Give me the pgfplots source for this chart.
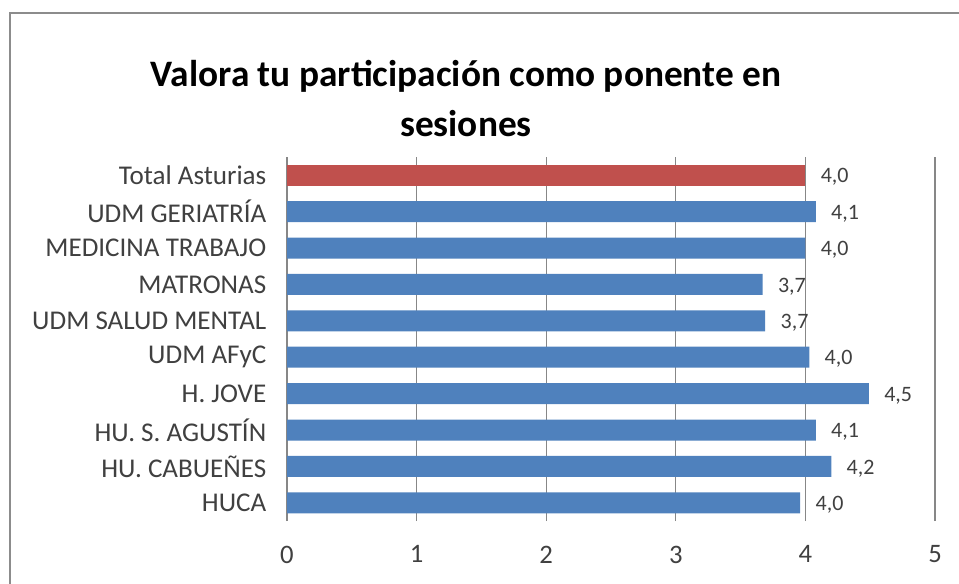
\documentclass[border=0pt]{standalone}
\usepackage{pgfplots}
\pgfplotsset{compat=1.18}
\usepackage{fontspec}
\setmainfont{Carlito}
\definecolor{barblue}{HTML}{4F81BD}
\definecolor{barred}{HTML}{C0504D}
\definecolor{gridgray}{HTML}{878787}
\definecolor{labgray}{HTML}{404040}
\definecolor{framegray}{HTML}{8C8C8C}
\begin{document}
\begin{tikzpicture}
\useasboundingbox (0,0) rectangle (719.25pt,437.25pt);
% outer chart frame (left and top edges visible)
\draw[framegray, line width=1.5pt] (7.5pt,-5pt) -- (7.5pt,427.5pt) -- (730pt,427.5pt);
% title
\node[align=center, font=\fontsize{28}{37.5}\selectfont\bfseries, text=black] at (349.5pt,363pt)
  {Valora tu participación como ponente en\\sesiones};
\begin{axis}[
  at={(215.25pt,46.5pt)}, anchor=south west,
  scale only axis, width=486pt, height=273pt,
  xbar, bar width=15.75pt, bar shift=0pt,
  xmin=0, xmax=5, ymin=-0.5, ymax=9.5,
  xtick={0,1,2,3,4,5},
  ytick={0,1,2,3,4,5,6,7,8,9},
  yticklabels={HUCA, HU. CABUEÑES, HU. S. AGUSTÍN, H. JOVE, UDM AFyC, UDM SALUD MENTAL, MATRONAS, MEDICINA TRABAJO, UDM GERIATRÍA, Total Asturias},
  axis line style={draw=none},
  major tick length=0pt,
  xmajorgrids, major grid style={gridgray, line width=0.9pt},
  /pgf/number format/assume math mode=true,
  xticklabel style={font=\fontsize{20}{24}\selectfont, text=labgray, yshift=-15pt},
  yticklabel style={font=\fontsize{20.3}{24}\selectfont, text=labgray, xshift=-12pt},
  nodes near coords={\pgfmathprintnumber[fixed,fixed zerofill,precision=1,use comma]{\pgfplotspointmeta}},
  nodes near coords style={font=\fontsize{16.5}{19}\selectfont, text=labgray, anchor=west, xshift=8pt, yshift=-1.5pt},
  point meta=x,
  clip=false,
]
\addplot[fill=barblue, draw=none] coordinates {
  (3.96,0) (4.20,1) (4.08,2) (4.49,3) (4.03,4) (3.69,5) (3.67,6) (4.00,7) (4.08,8)};
\addplot[fill=barred, draw=none] coordinates {(4.00,9)};
\end{axis}
\end{tikzpicture}
\end{document}
